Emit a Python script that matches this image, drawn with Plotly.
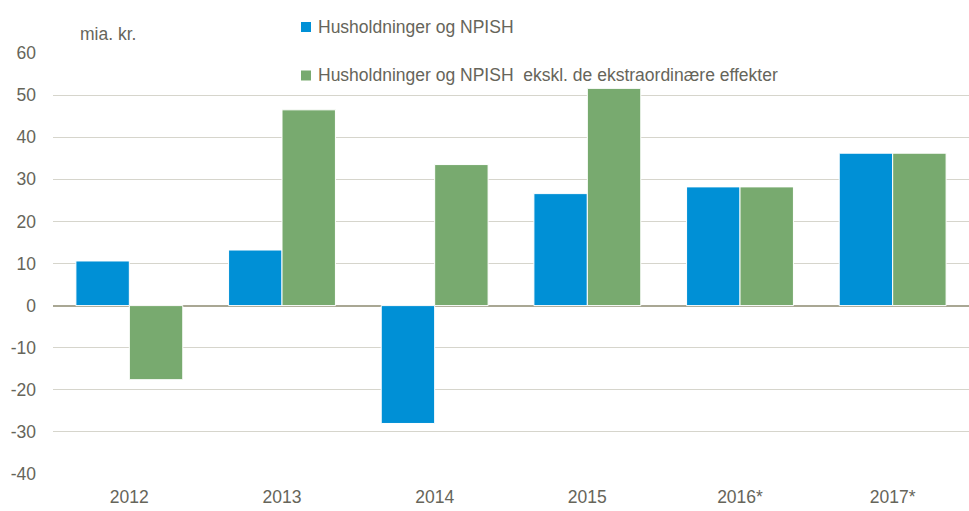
import plotly.graph_objects as go

categories = ["2012", "2013", "2014", "2015", "2016*", "2017*"]
husholdninger = [10.6, 13.2, -28.0, 26.6, 28.2, 36.2]
ekskl = [-17.6, 46.5, 33.5, 51.6, 28.2, 36.2]
y_ticks = [-40, -30, -20, -10, 0, 10, 20, 30, 40, 50, 60]
y_tick_labels = ["-40", "-30", "-20", "-10", "0", "10", "20", "30", "40", "50", "60"]
series_names = ["Husholdninger og NPISH",
                "Husholdninger og NPISH  ekskl. de ekstraordinære effekter"]
unit_label = "mia. kr."

FONT = "Liberation Sans, Arial, sans-serif"
TXT = "#66655a"
BLUE = "#0090d6"
GREEN = "#78aa6f"
FS = 17.5

W, H = 969, 511
L, R, T, B = 53, 0, 53, 37
PW, PH = W - L - R, H - T - B


def px(x):
    return (x - L) / PW


def py(y):
    return 1 + (T - y) / PH


fig = go.Figure()
fig.add_trace(go.Bar(
    x=categories, y=husholdninger, name=series_names[0],
    marker=dict(color=BLUE, line=dict(color="white", width=1)),
))
fig.add_trace(go.Bar(
    x=categories, y=ekskl, name=series_names[1],
    marker=dict(color=GREEN, line=dict(color="white", width=1)),
))

shapes = []
annotations = [dict(
    text=unit_label, xref="paper", yref="paper", x=px(78), y=py(34),
    xanchor="left", yanchor="middle", showarrow=False,
    font=dict(family=FONT, size=FS, color=TXT),
)]
for name, col, cy in [(series_names[0], BLUE, 27), (series_names[1], GREEN, 75.5)]:
    shapes.append(dict(type="rect", xref="paper", yref="paper",
                       x0=px(301), x1=px(311), y0=py(cy - 5), y1=py(cy + 5),
                       fillcolor=col, line=dict(width=0)))
    annotations.append(dict(
        text=name, xref="paper", yref="paper", x=px(316), y=py(cy),
        xanchor="left", yanchor="middle", showarrow=False,
        font=dict(family=FONT, size=FS, color=TXT),
    ))

fig.update_layout(
    width=W, height=H,
    margin=dict(l=L, r=R, t=T, b=B, autoexpand=False),
    paper_bgcolor="white", plot_bgcolor="white",
    barmode="group", bargap=0.3, bargroupgap=0.0,
    font=dict(family=FONT, size=FS, color=TXT),
    showlegend=False,
    hovermode=False,
    shapes=shapes,
    annotations=annotations,
)
fig.update_xaxes(
    showgrid=False, showline=False, ticks="", tickfont=dict(size=FS, color=TXT),
    ticklabelstandoff=10,
)
fig.update_yaxes(
    range=[-40, 60], tickvals=y_ticks, ticktext=y_tick_labels,
    showgrid=True, gridcolor="#d6d5cc", gridwidth=1,
    zeroline=True, zerolinecolor="#a9a794", zerolinewidth=1.5, showline=False,
    ticks="", tickfont=dict(size=FS, color=TXT), ticklabelstandoff=16,
)

fig.write_html("out.html", config={"displayModeBar": False},
               post_script="document.body.style.margin='0';")
